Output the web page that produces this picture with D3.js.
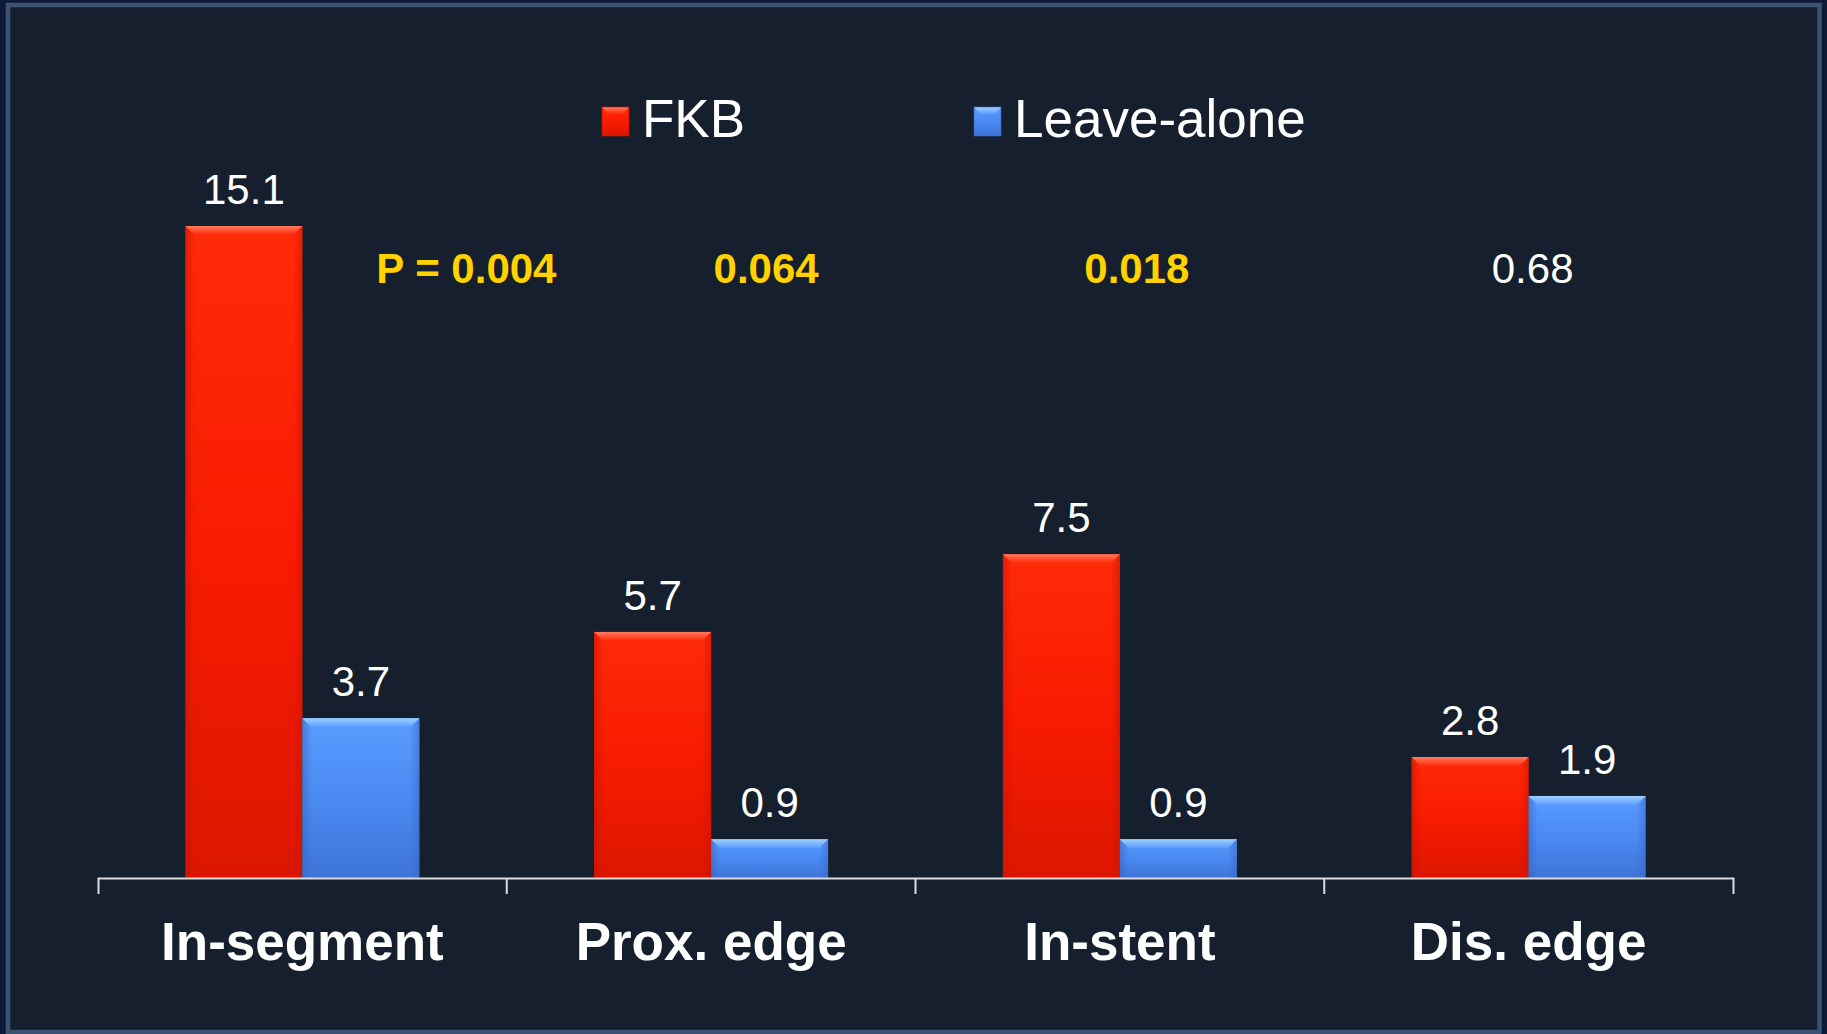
<!DOCTYPE html>
<html>
<head>
<meta charset="utf-8">
<script src="https://cdn.jsdelivr.net/npm/d3@7"></script>
<style>
  html, body { margin: 0; padding: 0; background: #0d1a36; }
  svg { display: block; }
  text { font-family: "Liberation Sans", Arial, Helvetica, sans-serif; }
</style>
</head>
<body>
<svg id="chart" width="1827" height="1034"></svg>
<script>
// Restenosis by segment: FKB vs leave-alone
const categories = ["In-segment", "Prox. edge", "In-stent", "Dis. edge"];
const seriesNames = ["FKB", "Leave-alone"];
const fkbValues = [15.1, 5.7, 7.5, 2.8];
const leaveAloneValues = [3.7, 0.9, 0.9, 1.9];
const pValueLabels = ["P = 0.004", "0.064", "0.018", "0.68"];
const pValueSignificant = [true, true, true, false];

// layout
const W = 1827, H = 1034;
const axisY = 878;
const pLabelShift = [164, 55, 17, 4];

const svg = d3.select("#chart");
const defs = svg.append("defs");

// slide frame
svg.append("rect").attr("width", W).attr("height", H).attr("fill", "#0d1a36");
svg.append("rect")
  .attr("x", 8).attr("y", 5).attr("width", 1811.5).attr("height", 1027)
  .attr("fill", "#161f2d").attr("stroke", "#3b5272").attr("stroke-width", 4.5);

const x0 = d3.scaleBand().domain(categories).range([98, 1733]);
const x1 = d3.scaleBand().domain(seriesNames).range([0, x0.bandwidth()])
  .paddingInner(0).paddingOuter(0.747);
const y = d3.scaleLinear().domain([0, 15.1]).range([axisY, 226]);

const palette = {
  "FKB":         { top: "#ff7a5e", light: "#ff2a08", body: "#f91b00", dark: "#dc1600", edge: "#c41400" },
  "Leave-alone": { top: "#9fd2ff", light: "#5a9cff", body: "#4a8af3", dark: "#3f74d8", edge: "#3564c0" }
};

// gradients for each series
seriesNames.forEach((s, i) => {
  const p = palette[s];
  const g = defs.append("linearGradient").attr("id", "body" + i)
    .attr("x1", 0).attr("y1", 0).attr("x2", 0).attr("y2", 1);
  g.append("stop").attr("offset", 0).attr("stop-color", p.light);
  g.append("stop").attr("offset", 0.5).attr("stop-color", p.body);
  g.append("stop").attr("offset", 1).attr("stop-color", p.dark);
  const h = defs.append("linearGradient").attr("id", "side" + i)
    .attr("x1", 0).attr("y1", 0).attr("x2", 1).attr("y2", 0);
  h.append("stop").attr("offset", 0).attr("stop-color", p.edge).attr("stop-opacity", 0.55);
  h.append("stop").attr("offset", 0.08).attr("stop-color", p.edge).attr("stop-opacity", 0.0);
  h.append("stop").attr("offset", 0.92).attr("stop-color", p.edge).attr("stop-opacity", 0.0);
  h.append("stop").attr("offset", 1).attr("stop-color", p.edge).attr("stop-opacity", 0.5);
  const t = defs.append("linearGradient").attr("id", "top" + i)
    .attr("x1", 0).attr("y1", 0).attr("x2", 0).attr("y2", 1);
  t.append("stop").attr("offset", 0).attr("stop-color", p.top);
  t.append("stop").attr("offset", 1).attr("stop-color", p.light);
});

const rows = categories.map((c, i) => ({
  category: c,
  values: [
    { series: "FKB", si: 0, value: fkbValues[i] },
    { series: "Leave-alone", si: 1, value: leaveAloneValues[i] }
  ]
}));

function bevelBar(sel, bx, by, bw, bh, si) {
  sel.append("rect").attr("x", bx).attr("y", by).attr("width", bw).attr("height", bh)
    .attr("fill", `url(#body${si})`);
  sel.append("rect").attr("x", bx).attr("y", by).attr("width", bw).attr("height", bh)
    .attr("fill", `url(#side${si})`);
  const b = Math.min(9, bh / 2);
  sel.append("path")
    .attr("d", `M${bx},${by}H${bx + bw}L${bx + bw - b},${by + b}H${bx + b}Z`)
    .attr("fill", `url(#top${si})`);
}

const groups = svg.append("g").selectAll("g.cat").data(rows).join("g")
  .attr("class", "cat")
  .attr("transform", d => `translate(${x0(d.category)},0)`);

groups.each(function (d) {
  const g = d3.select(this);
  d.values.forEach(v => {
    const bx = x1(v.series), bw = x1.bandwidth();
    const by = y(v.value), bh = y(0) - y(v.value);
    bevelBar(g.append("g"), bx, by, bw, bh, v.si);
    g.append("text")
      .attr("x", bx + bw / 2).attr("y", by - 22)
      .attr("text-anchor", "middle")
      .attr("font-size", 42).attr("fill", "#ffffff")
      .text(d3.format(".1f")(v.value));
  });
});

// category axis
const axis = d3.axisBottom(x0).tickSize(0).tickPadding(44).tickSizeOuter(16);
const axG = svg.append("g").attr("transform", `translate(0,${axisY})`).call(axis);
axG.select(".domain").attr("stroke", "#dcdcdc").attr("stroke-width", 2);
axG.selectAll(".tick text")
  .attr("font-size", 53).attr("font-weight", "bold").attr("fill", "#ffffff")
  .attr("font-family", '"Liberation Sans", Arial, sans-serif');
axG.selectAll(".tick line").remove();
axG.selectAll("line.sep").data(categories.slice(1)).join("line")
  .attr("class", "sep")
  .attr("x1", d => x0(d)).attr("x2", d => x0(d))
  .attr("y1", 0).attr("y2", 16)
  .attr("stroke", "#dcdcdc").attr("stroke-width", 2);

// p-values
svg.append("g").selectAll("text").data(pValueLabels).join("text")
  .attr("x", (d, i) => x0(categories[i]) + x0.bandwidth() / 2 + pLabelShift[i])
  .attr("y", 283)
  .attr("text-anchor", "middle")
  .attr("font-size", 42)
  .attr("font-weight", (d, i) => pValueSignificant[i] ? "bold" : "normal")
  .attr("fill", (d, i) => pValueSignificant[i] ? "#ffd200" : "#ffffff")
  .text(d => d);

// legend
const legendX = [602, 974];
const leg = svg.append("g").selectAll("g").data(seriesNames).join("g")
  .attr("transform", (d, i) => `translate(${legendX[i]},107)`);
leg.each(function (d, i) {
  const g = d3.select(this);
  const p = palette[d];
  g.append("rect").attr("width", 27).attr("height", 29).attr("fill", `url(#body${i})`);
  g.append("path").attr("d", "M0,0H27L21,7H6Z").attr("fill", `url(#top${i})`);
  g.append("rect").attr("width", 27).attr("height", 29).attr("fill", "none")
    .attr("stroke", p.edge).attr("stroke-width", 1).attr("stroke-opacity", 0.6);
  g.append("text").attr("x", 40).attr("y", 30)
    .attr("font-size", 53).attr("fill", "#ffffff").text(d);
});
</script>
</body>
</html>
